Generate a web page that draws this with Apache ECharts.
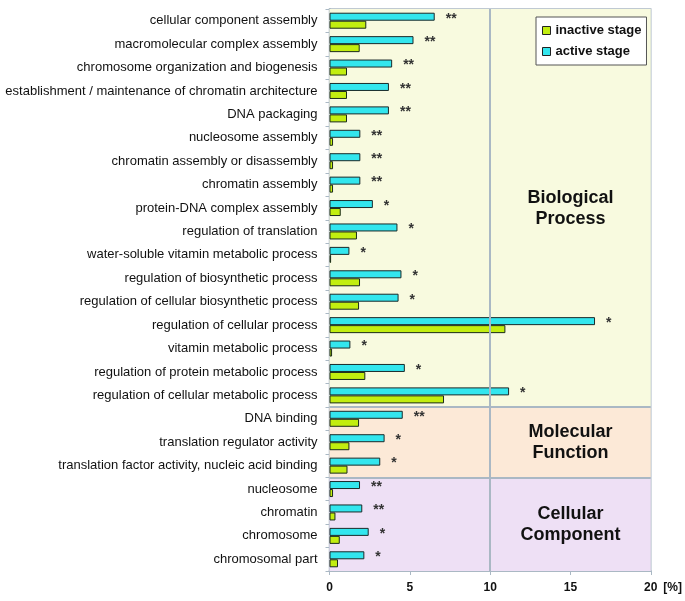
<!DOCTYPE html>
<html>
<head>
<meta charset="utf-8">
<script src="https://cdn.jsdelivr.net/npm/echarts@6/dist/echarts.min.js"></script>
<style>html,body{margin:0;padding:0;background:#fff}#c{width:685px;height:601px}</style>
</head>
<body>
<div id="c"></div>
<script>
const categories = [
  "cellular component assembly",
  "macromolecular complex assembly",
  "chromosome organization and biogenesis",
  "establishment / maintenance of chromatin architecture",
  "DNA packaging",
  "nucleosome assembly",
  "chromatin assembly or disassembly",
  "chromatin assembly",
  "protein-DNA complex assembly",
  "regulation of translation",
  "water-soluble vitamin metabolic process",
  "regulation of biosynthetic process",
  "regulation of cellular biosynthetic process",
  "regulation of cellular process",
  "vitamin metabolic process",
  "regulation of protein metabolic process",
  "regulation of cellular metabolic process",
  "DNA binding",
  "translation regulator activity",
  "translation factor activity, nucleic acid binding",
  "nucleosome",
  "chromatin",
  "chromosome",
  "chromosomal part"
];
const activeStage = [6.55,5.23,3.9,3.7,3.7,1.92,1.92,1.92,2.7,4.23,1.24,4.48,4.3,16.53,1.3,4.69,11.18,4.56,3.43,3.16,1.9,2.04,2.44,2.17];
const inactiveStage = [2.29,1.88,1.09,1.09,1.09,0.22,0.22,0.22,0.7,1.71,0.1,1.9,1.84,10.95,0.16,2.23,7.13,1.84,1.24,1.12,0.22,0.37,0.64,0.53];
const stars = ["**","**","**","**","**","**","**","**","*","*","*","*","*","*","*","*","*","**","*","*","**","**","*","*"];
const xTicks = [0,5,10,15,20];
const regionNames = ["Biological\nProcess","Molecular\nFunction","Cellular\nComponent"];
const regionStart = [0,17,20];
const regionEnd = [17,20,24];
const regionColors = ["#f8fadf","#fce9d7","#eee0f5"];

const gridLine = "#aab8c4";
const chart = echarts.init(document.getElementById('c'));

const bgAreas = regionNames.map((n,i)=>[
  {xAxis:0, yAxis:regionStart[i], itemStyle:{color:regionColors[i]}},
  {xAxis:20, yAxis:regionEnd[i]}
]);
const textAreas = regionNames.map((n,i)=>[
  {name:n, xAxis:10, yAxis:regionStart[i], itemStyle:{color:'rgba(0,0,0,0)'}},
  {xAxis:20, yAxis:regionEnd[i]}
]);

chart.setOption({
  animation:false,
  textStyle:{fontFamily:'"Liberation Sans", Arial, sans-serif'},
  grid:{left:329.5, right:33, top:9, bottom:30, show:true, borderColor:gridLine, borderWidth:1.5, backgroundColor:'transparent'},
  legend:{
    data:['inactive stage','active stage'],
    orient:'vertical', left:536, top:17,
    backgroundColor:'#fff', borderColor:'#555', borderWidth:1,
    padding:[7,5,7,6], itemGap:8, itemWidth:8, itemHeight:8, itemTextGap:7,
    icon:'rect',
    itemStyle:{borderColor:'#222', borderWidth:1},
    textStyle:{fontSize:13, fontWeight:'bold', color:'#111'}
  },
  xAxis:{
    type:'value', min:xTicks[0], max:xTicks[xTicks.length-1], interval:5,
    name:'[%]', nameLocation:'end', nameGap:10,
    nameTextStyle:{fontSize:12, fontWeight:'bold', color:'#111', verticalAlign:'top', padding:[11,0,0,0]},
    axisLine:{show:true, onZero:false, lineStyle:{color:gridLine, width:2}},
    axisTick:{show:true, length:4, lineStyle:{color:gridLine}},
    axisLabel:{fontSize:12, fontWeight:'bold', color:'#111', margin:11},
    splitLine:{show:false}
  },
  yAxis:[{
    type:'category', data:categories, inverse:true,
    axisLine:{show:true, onZero:false, lineStyle:{color:gridLine, width:2}},
    axisTick:{show:true, length:4, lineStyle:{color:gridLine}},
    axisLabel:{fontSize:13, color:'#111', margin:12, interval:0, padding:[4,0,0,0]},
    splitLine:{show:false}
  },{
    type:'value', min:0, max:24, inverse:true, show:false
  }],
  series:[
    {
      name:'regions', type:'line', yAxisIndex:1, data:[], silent:true, z:0,
      markArea:{silent:true, data:bgAreas.concat(textAreas),
        label:{show:true, position:'inside', fontSize:18, fontWeight:'bold', color:'#111', lineHeight:21,
          formatter:p=>p.name}},
      markLine:{silent:true, symbol:'none', label:{show:false},
        lineStyle:{type:'solid', color:gridLine, width:2},
        data:[{xAxis:10},{yAxis:17},{yAxis:20}]}
    },
    {
      name:'active stage', type:'bar', data:activeStage, barWidth:8, barGap:'0%', z:3,
      itemStyle:{color:'#33e6ee', borderColor:'#1a2a2a', borderWidth:1},
      label:{show:true, position:'right', distance:11, offset:[0,2], fontSize:14, fontWeight:'bold', color:'#333',
        formatter:p=>stars[p.dataIndex]}
    },
    {
      name:'inactive stage', type:'bar', data:inactiveStage, barWidth:8, barGap:'0%', z:3,
      itemStyle:{color:'#c2ee10', borderColor:'#1a2a1a', borderWidth:1}
    }
  ]
});
</script>
</body>
</html>
